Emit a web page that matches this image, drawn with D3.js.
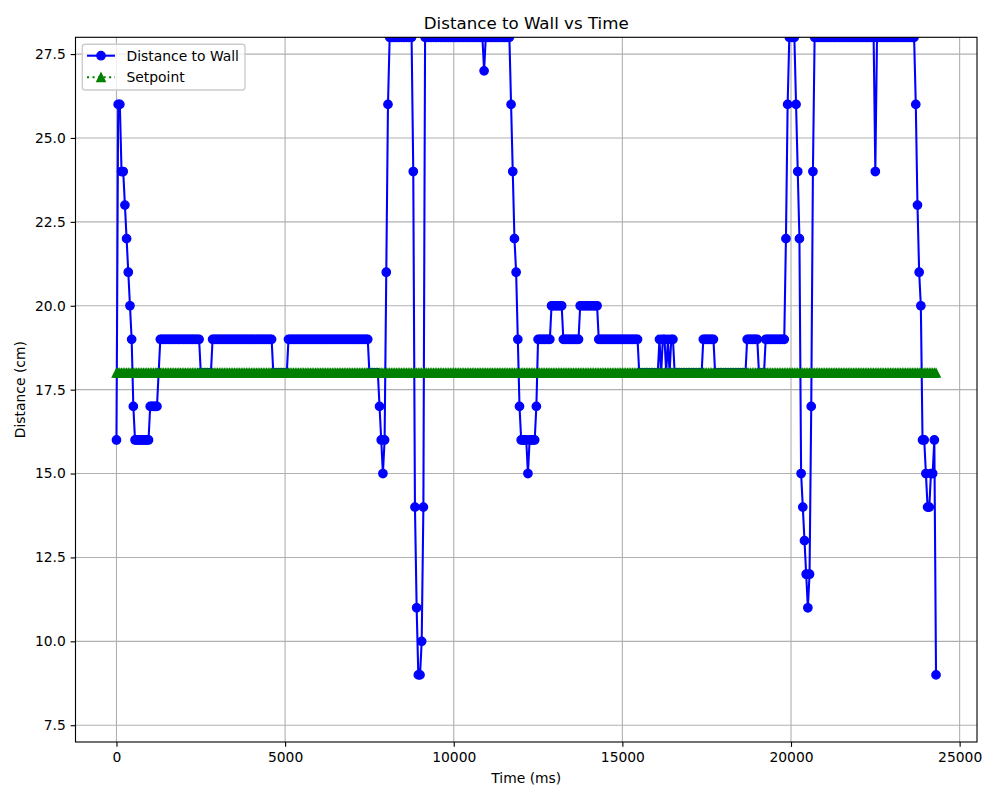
<!DOCTYPE html>
<html>
<head>
<meta charset="utf-8">
<script src="https://cdn.jsdelivr.net/npm/d3@7"></script>
<style>
  body { margin: 0; background: #ffffff; }
  text { font-family: "DejaVu Sans", sans-serif; fill: #000000; }
</style>
</head>
<body>
<svg id="chart" width="1000" height="800"></svg>
<script>
// ---------------- data ----------------
const distance = [
  // 0 - 500 ms
  16, 26, 26, 24, 24, 23, 22, 21, 20, 19, 17,
  // 550 - 950
  16, 16, 16, 16, 16, 16, 16, 16, 16,
  // 1000 - 1250
  17, 17, 17, 17, 17, 18,
  // 1300 - 2450
  19, 19, 19, 19, 19, 19, 19, 19, 19, 19, 19, 19,
  19, 19, 19, 19, 19, 19, 19, 19, 19, 19, 19, 19,
  // 2500 - 2800
  18, 18, 18, 18, 18, 18, 18,
  // 2850 - 4600
  19, 19, 19, 19, 19, 19, 19, 19, 19, 19, 19, 19,
  19, 19, 19, 19, 19, 19, 19, 19, 19, 19, 19, 19,
  19, 19, 19, 19, 19, 19, 19, 19, 19, 19, 19, 19,
  // 4650 - 5050
  18, 18, 18, 18, 18, 18, 18, 18, 18,
  // 5100 - 7450
  19, 19, 19, 19, 19, 19, 19, 19, 19, 19, 19, 19,
  19, 19, 19, 19, 19, 19, 19, 19, 19, 19, 19, 19,
  19, 19, 19, 19, 19, 19, 19, 19, 19, 19, 19, 19,
  19, 19, 19, 19, 19, 19, 19, 19, 19, 19, 19, 19,
  // 7500 - 7750
  18, 18, 18, 18, 18, 18,
  // 7800 - 8050
  17, 16, 15, 16, 21, 26,
  // 8100 - 8750
  28, 28, 28, 28, 28, 28, 28, 28, 28, 28, 28, 28,
  28, 28,
  // 8800 - 9100
  24, 14, 11, 9, 9, 10, 14,
  // 9150 - 10850
  28, 28, 28, 28, 28, 28, 28, 28, 28, 28, 28, 28,
  28, 28, 28, 28, 28, 28, 28, 28, 28, 28, 28, 28,
  28, 28, 28, 28, 28, 28, 28, 28, 28, 28, 28,
  // 10900
  27,
  // 10950 - 11650
  28, 28, 28, 28, 28, 28, 28, 28, 28, 28, 28, 28,
  28, 28, 28,
  // 11700 - 11950
  26, 24, 22, 21, 19, 17,
  // 12000 - 12450
  16, 16, 16, 16, 15, 16, 16, 16, 16, 17,
  // 12500 - 12850
  19, 19, 19, 19, 19, 19, 19, 19,
  // 12900 - 13200
  20, 20, 20, 20, 20, 20, 20,
  // 13250 - 13700
  19, 19, 19, 19, 19, 19, 19, 19, 19, 19,
  // 13750 - 14250
  20, 20, 20, 20, 20, 20, 20, 20, 20, 20, 20,
  // 14300 - 15450
  19, 19, 19, 19, 19, 19, 19, 19, 19, 19, 19, 19,
  19, 19, 19, 19, 19, 19, 19, 19, 19, 19, 19, 19,
  // 15500 - 16050
  18, 18, 18, 18, 18, 18, 18, 18, 18, 18, 18, 18,
  // 16100 - 16500
  19, 18, 19, 19, 18, 19, 18, 19, 19,
  // 16550 - 17350
  18, 18, 18, 18, 18, 18, 18, 18, 18, 18, 18, 18,
  18, 18, 18, 18, 18,
  // 17400 - 17700
  19, 19, 19, 19, 19, 19, 19,
  // 17750 - 18650
  18, 18, 18, 18, 18, 18, 18, 18, 18, 18, 18, 18,
  18, 18, 18, 18, 18, 18, 18,
  // 18700 - 19000
  19, 19, 19, 19, 19, 19, 19,
  // 19050 - 19200
  18, 18, 18, 18,
  // 19250 - 19800
  19, 19, 19, 19, 19, 19, 19, 19, 19, 19, 19, 19,
  // 19850 - 20100
  22, 26, 28, 28, 28, 28,
  // 20150 - 20650
  26, 24, 22, 15, 14, 13, 12, 11, 12, 17, 24,
  // 20700 - 22450
  28, 28, 28, 28, 28, 28, 28, 28, 28, 28, 28, 28,
  28, 28, 28, 28, 28, 28, 28, 28, 28, 28, 28, 28,
  28, 28, 28, 28, 28, 28, 28, 28, 28, 28, 28, 28,
  // 22500
  24,
  // 22550 - 23650
  28, 28, 28, 28, 28, 28, 28, 28, 28, 28, 28, 28,
  28, 28, 28, 28, 28, 28, 28, 28, 28, 28, 28,
  // 23700 - 24300
  26, 23, 21, 20, 16, 16, 15, 14, 14, 15, 15, 16, 9
];
const sampleIntervalMs = 50;
const setpointValue = 18;

const xTickValues = [0, 5000, 10000, 15000, 20000, 25000];
const yTickValues = [7.5, 10.0, 12.5, 15.0, 17.5, 20.0, 22.5, 25.0, 27.5];
const yLimits = [7, 28];
const seriesNames = ["Distance to Wall", "Setpoint"];
const titleText = "Distance to Wall vs Time";
const xLabelText = "Time (ms)";
const yLabelText = "Distance (cm)";

// ---------------- derived tables ----------------
const times = distance.map((_, i) => i * sampleIntervalMs);
const distRows = times.map((t, i) => ({ t: t, v: distance[i] }));
const setRows = times.map(t => ({ t: t, v: setpointValue }));

// ---------------- layout ----------------
const PT = 100 / 72;
const L = 75.5, R = 977, T = 37.3, B = 742;
const fs = 10 * PT;

const svg = d3.select("#chart");
svg.append("rect").attr("width", 1000).attr("height", 800).attr("fill", "#ffffff");

const tMin = d3.min(times), tMax = d3.max(times);
const pad = 0.05 * (tMax - tMin);
const x = d3.scaleLinear().domain([tMin - pad, tMax + pad]).range([L, R]);
const y = d3.scaleLinear().domain(yLimits).range([B, T]);

// grid
const grid = svg.append("g");
grid.selectAll("line.gx").data(xTickValues).enter().append("line")
  .attr("x1", d => x(d)).attr("x2", d => x(d)).attr("y1", T).attr("y2", B)
  .attr("stroke", "#b0b0b0").attr("stroke-width", 0.8 * PT);
grid.selectAll("line.gy").data(yTickValues).enter().append("line")
  .attr("x1", L).attr("x2", R).attr("y1", d => y(d)).attr("y2", d => y(d))
  .attr("stroke", "#b0b0b0").attr("stroke-width", 0.8 * PT);

// clip
svg.append("defs").append("clipPath").attr("id", "plotclip")
  .append("rect").attr("x", L).attr("y", T).attr("width", R - L).attr("height", B - T);
const plot = svg.append("g").attr("clip-path", "url(#plotclip)");

const lineGen = d3.line().x(d => x(d.t)).y(d => y(d.v));

// distance series
plot.append("path").datum(distRows).attr("d", lineGen)
  .attr("fill", "none").attr("stroke", "#0000ff").attr("stroke-width", 1.5 * PT)
  .attr("stroke-linejoin", "round").attr("stroke-linecap", "square");
plot.append("g").selectAll("circle").data(distRows).enter().append("circle")
  .attr("cx", d => x(d.t)).attr("cy", d => y(d.v)).attr("r", 3 * PT)
  .attr("fill", "#0000ff").attr("stroke", "#0000ff").attr("stroke-width", 1 * PT);

// setpoint series
const triPath = (cx, cy, s) => `M${cx},${cy - s}L${cx - s},${cy + s}L${cx + s},${cy + s}Z`;
plot.append("path").datum(setRows).attr("d", lineGen)
  .attr("fill", "none").attr("stroke", "#008000").attr("stroke-width", 1.5 * PT)
  .attr("stroke-dasharray", `${1.5 * PT},${2.475 * PT}`);
plot.append("g").selectAll("path").data(setRows).enter().append("path")
  .attr("d", d => triPath(x(d.t), y(d.v), 3 * PT))
  .attr("fill", "#008000").attr("stroke", "#008000").attr("stroke-width", 1 * PT)
  .attr("stroke-linejoin", "miter");

// axes
const tickLen = 3.5 * PT, tickPad = 3.5 * PT;
const xAxis = svg.append("g").attr("transform", `translate(0,${B})`)
  .call(d3.axisBottom(x).tickValues(xTickValues).tickFormat(d3.format("d"))
    .tickSize(tickLen).tickPadding(tickPad));
const yAxis = svg.append("g").attr("transform", `translate(${L},0)`)
  .call(d3.axisLeft(y).tickValues(yTickValues).tickFormat(d3.format(".1f"))
    .tickSize(tickLen).tickPadding(tickPad));
[xAxis, yAxis].forEach(a => {
  a.select(".domain").remove();
  a.selectAll(".tick line").attr("stroke", "#000").attr("stroke-width", 0.8 * PT);
  a.selectAll(".tick text").attr("font-size", fs).attr("fill", "#000")
    .attr("font-family", "'DejaVu Sans', sans-serif");
});

// spines
svg.append("rect").attr("x", L).attr("y", T).attr("width", R - L).attr("height", B - T)
  .attr("fill", "none").attr("stroke", "#000").attr("stroke-width", 0.8 * PT);

// title & labels
svg.append("text").attr("x", (L + R) / 2).attr("y", T - 6 * PT)
  .attr("text-anchor", "middle").attr("font-size", 12 * PT).text(titleText);
svg.append("text").attr("x", (L + R) / 2).attr("y", 783)
  .attr("text-anchor", "middle").attr("font-size", fs).text(xLabelText);
svg.append("text").attr("transform", `translate(25,${(T + B) / 2}) rotate(-90)`)
  .attr("text-anchor", "middle").attr("font-size", fs).text(yLabelText);

// legend
const lg = svg.append("g");
lg.append("rect").attr("x", 82.3).attr("y", 44.3).attr("width", 162.7).attr("height", 45.7)
  .attr("rx", 2.8).attr("ry", 2.8)
  .attr("fill", "#ffffff").attr("fill-opacity", 0.8)
  .attr("stroke", "#cccccc").attr("stroke-width", 1 * PT);
const hx0 = 87, hx1 = 115, hxc = (hx0 + hx1) / 2, ty = 55.7, ty2 = 77.3;
lg.append("line").attr("x1", hx0).attr("x2", hx1).attr("y1", ty).attr("y2", ty)
  .attr("stroke", "#0000ff").attr("stroke-width", 1.5 * PT);
lg.append("circle").attr("cx", hxc).attr("cy", ty).attr("r", 3 * PT)
  .attr("fill", "#0000ff").attr("stroke", "#0000ff").attr("stroke-width", 1 * PT);
lg.append("line").attr("x1", hx0).attr("x2", hx1).attr("y1", ty2).attr("y2", ty2)
  .attr("stroke", "#008000").attr("stroke-width", 1.5 * PT)
  .attr("stroke-dasharray", `${1.5 * PT},${2.475 * PT}`);
lg.append("path").attr("d", triPath(hxc, ty2, 3 * PT))
  .attr("fill", "#008000").attr("stroke", "#008000").attr("stroke-width", 1 * PT);
lg.append("text").attr("x", 126.5).attr("y", ty).attr("dy", "0.35em")
  .attr("font-size", fs).text(seriesNames[0]);
lg.append("text").attr("x", 126.5).attr("y", ty2).attr("dy", "0.35em")
  .attr("font-size", fs).text(seriesNames[1]);
</script>
</body>
</html>
